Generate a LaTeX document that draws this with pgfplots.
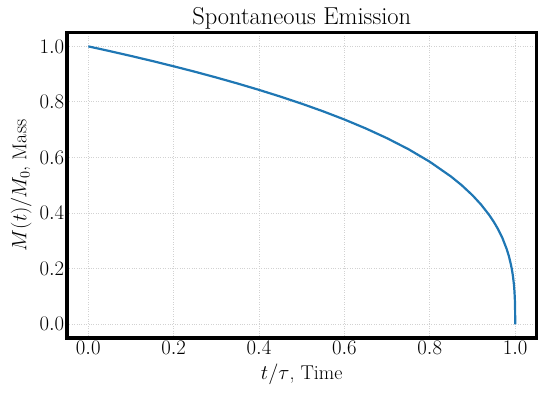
\documentclass[border=0pt]{standalone}
\usepackage{pgfplots}
\pgfplotsset{compat=1.18}
\definecolor{mplblue}{HTML}{1F77B4}
\begin{document}
\begin{tikzpicture}
\begin{axis}[
  scale only axis,
  width=470pt, height=306pt,
  xmin=-0.05, xmax=1.05, ymin=-0.05, ymax=1.05,
  xtick={0,0.2,0.4,0.6,0.8,1.0},
  ytick={0,0.2,0.4,0.6,0.8,1.0},
  xticklabel style={/pgf/number format/.cd,fixed,fixed zerofill,precision=1},
  yticklabel style={/pgf/number format/.cd,fixed,fixed zerofill,precision=1},
  major tick length=0pt,
  axis line style={line width=3.5pt},
  grid=major,
  grid style={dotted, gray!35, line width=1pt},
  title={Spontaneous Emission},
  xlabel={$t/\tau$, Time},
  ylabel={$M(t)/M_0$, Mass},
  tick label style={font=\fontsize{22}{26}\selectfont, inner sep=2.5pt},
  label style={font=\fontsize{20}{24}\selectfont},
  xlabel style={yshift=-4pt},
  ylabel style={yshift=2pt},
  title style={font=\fontsize{24.5}{28}\selectfont, yshift=-6pt},
]
\coordinate (ll) at (rel axis cs:0,0);
\coordinate (ur) at (rel axis cs:1,1);
\addplot[mplblue, line width=2.2pt] coordinates {
(0,1) (0.05,0.9830) (0.1,0.9655) (0.15,0.9473) (0.2,0.9283) (0.25,0.9086)
(0.3,0.8879) (0.35,0.8662) (0.4,0.8434) (0.45,0.8193) (0.5,0.7937)
(0.55,0.7663) (0.6,0.7368) (0.65,0.7047) (0.7,0.6694) (0.75,0.6300)
(0.8,0.5848) (0.85,0.5313) (0.875,0.5) (0.9,0.4642) (0.92,0.4309)
(0.94,0.3915) (0.95,0.3684) (0.96,0.3420) (0.97,0.3107) (0.98,0.2714)
(0.985,0.2466) (0.99,0.2154) (0.993,0.1913) (0.995,0.1710) (0.997,0.1442)
(0.998,0.1260) (0.999,0.1) (0.9995,0.0794) (0.9999,0.0464) (0.99999,0.0215) (1.0,0)
};
\end{axis}
\path (ll) ++(-67pt,-59.5pt) coordinate (a);
\path (ur) ++(11.5pt,32.5pt) coordinate (b);
\pgfresetboundingbox
\path (a) rectangle (b);
\end{tikzpicture}
\end{document}
